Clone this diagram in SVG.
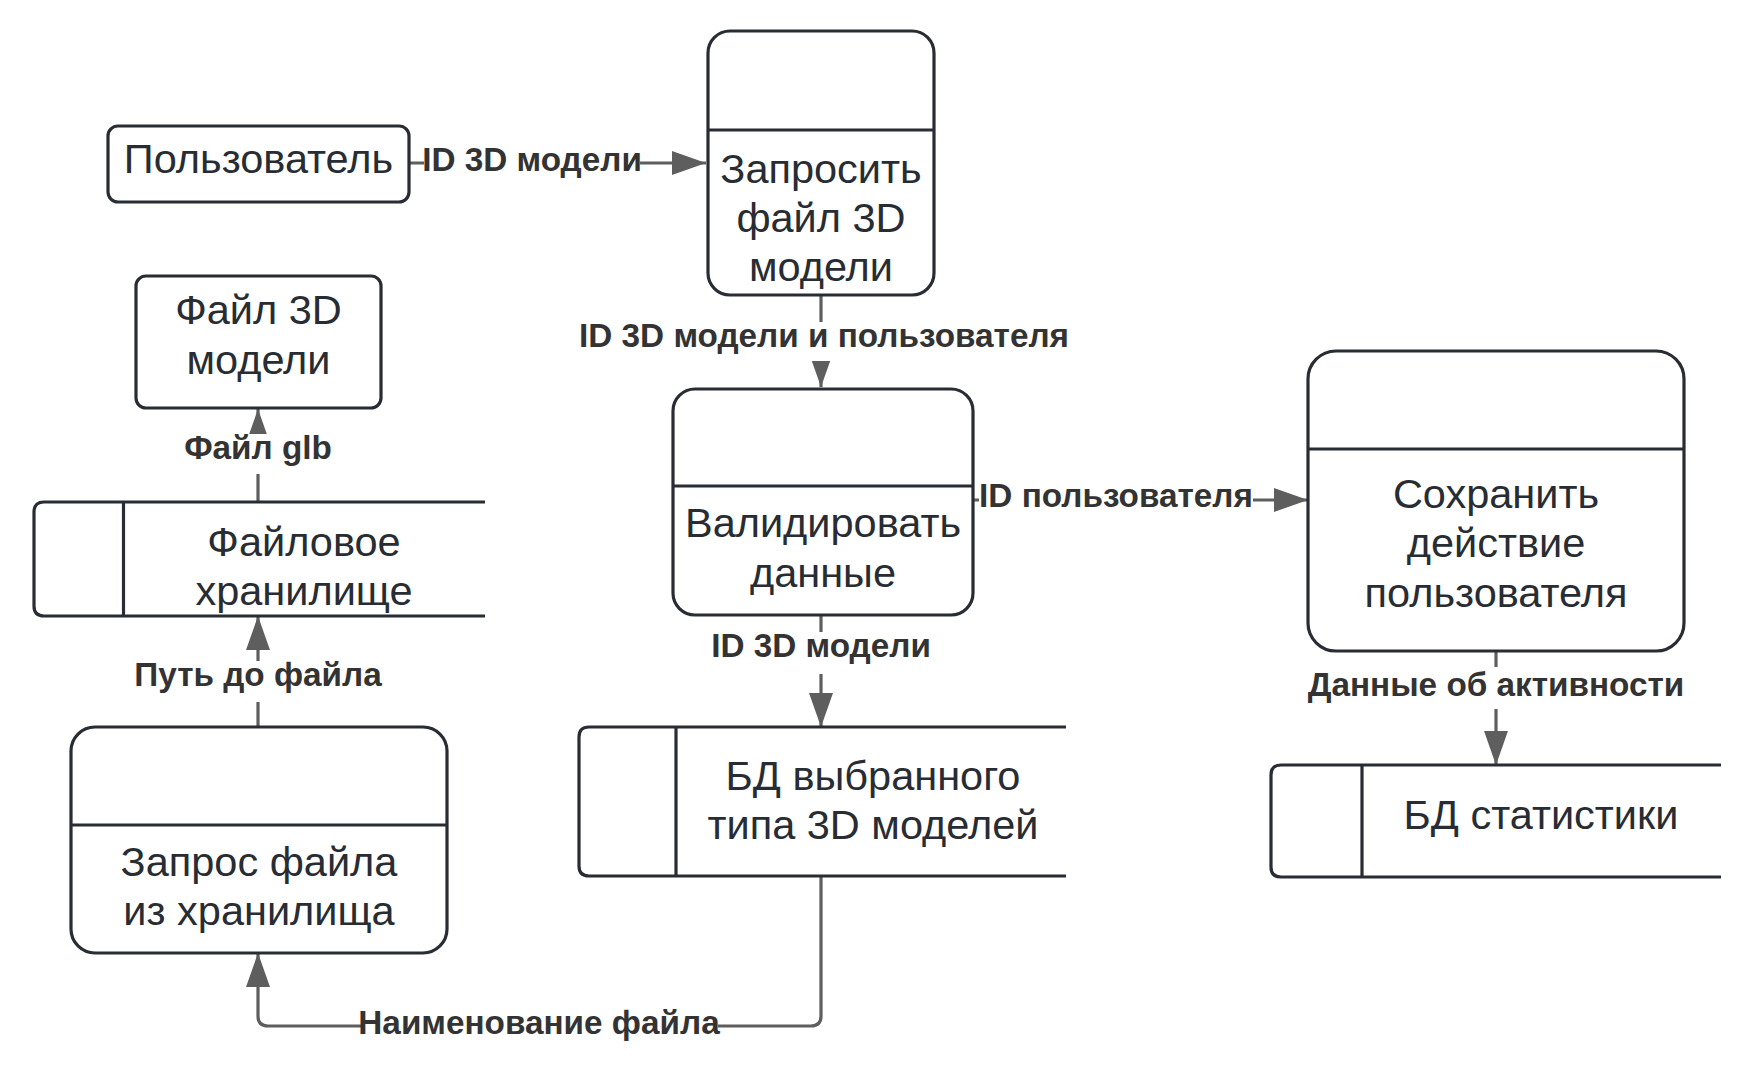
<svg xmlns="http://www.w3.org/2000/svg" width="1755" height="1073" viewBox="0 0 1755 1073">
<defs>
<style>
.n{fill:#fff;stroke:#282c33;stroke-width:3.2}
.d{fill:none;stroke:#282c33;stroke-width:3.2}
.t{font-family:"Liberation Sans",Arial,sans-serif;font-size:41.5px;fill:#282c33;text-anchor:middle}
.c{fill:none;stroke:#5e5e5e;stroke-width:3.2}
.l{font-family:"Liberation Sans",Arial,sans-serif;font-size:33.3px;font-weight:bold;fill:#333;text-anchor:middle}
.bg{fill:#fff}
</style>
<marker id="ah" markerUnits="userSpaceOnUse" markerWidth="36" markerHeight="24" refX="34" refY="12" orient="auto">
<path d="M0,0 L34,12 L0,24 Z" fill="#5e5e5e"/>
</marker>
</defs>
<rect width="1755" height="1073" fill="#fff"/>
<g id="connectors">
<path class="c" d="M409,163 H706" marker-end="url(#ah)"/>
<path class="c" d="M821,295 V387" marker-end="url(#ah)"/>
<path class="c" d="M258,502 V409" marker-end="url(#ah)"/>
<path class="c" d="M258,727 V616" marker-end="url(#ah)"/>
<path class="c" d="M821,615 V727" marker-end="url(#ah)"/>
<path class="c" d="M974,500 H1308" marker-end="url(#ah)"/>
<path class="c" d="M1496,651 V765" marker-end="url(#ah)"/>
<path class="c" d="M821,876 V1016 Q821,1026 811,1026 H268 Q258,1026 258,1016 V953" marker-end="url(#ah)"/>
<rect class="bg" x="424" y="146" width="216" height="34"/>
<rect class="bg" x="578" y="322" width="494" height="39"/>
<rect class="bg" x="200" y="434" width="116" height="40"/>
<rect class="bg" x="135" y="661" width="246" height="41"/>
<rect class="bg" x="718" y="632" width="206" height="42"/>
<rect class="bg" x="979" y="483" width="274" height="34"/>
<rect class="bg" x="1313" y="667" width="366" height="42"/>
<rect class="bg" x="361" y="1009" width="357" height="34"/>
<text class="l" x="532" y="171">ID 3D модели</text>
<text class="l" x="824" y="347">ID 3D модели и пользователя</text>
<text class="l" x="258" y="459">Файл glb</text>
<text class="l" x="258" y="686">Путь до файла</text>
<text class="l" x="821" y="657">ID 3D модели</text>
<text class="l" x="1116" y="507">ID пользователя</text>
<text class="l" x="1496" y="696">Данные об активности</text>
<text class="l" x="539" y="1034">Наименование файла</text>
</g>
<g id="user">
<rect class="n" x="108" y="126" width="301" height="76" rx="10"/>
<text class="t" x="258.5" y="173">Пользователь</text>
</g>
<g id="request-file">
<rect class="n" x="708" y="31" width="226" height="264" rx="22"/>
<line class="d" x1="708" y1="130" x2="934" y2="130"/>
<text class="t" x="821" y="183">Запросить</text>
<text class="t" x="821" y="232">файл 3D</text>
<text class="t" x="821" y="281">модели</text>
</g>
<g id="model-file">
<rect class="n" x="136" y="276" width="245" height="132" rx="10"/>
<text class="t" x="258.5" y="324">Файл 3D</text>
<text class="t" x="258.5" y="374">модели</text>
</g>
<g id="file-storage">
<path class="d" d="M485,502 H44 Q34,502 34,512 V606 Q34,616 44,616 H485"/>
<line class="d" x1="123.5" y1="502" x2="123.5" y2="616"/>
<text class="t" x="304" y="556">Файловое</text>
<text class="t" x="304" y="605">хранилище</text>
</g>
<g id="validate">
<rect class="n" x="673" y="389" width="300" height="226" rx="22"/>
<line class="d" x1="673" y1="486" x2="973" y2="486"/>
<text class="t" x="823" y="537">Валидировать</text>
<text class="t" x="823" y="587">данные</text>
</g>
<g id="save-action">
<rect class="n" x="1308" y="351" width="376" height="300" rx="28"/>
<line class="d" x1="1308" y1="449" x2="1684" y2="449"/>
<text class="t" x="1496" y="508">Сохранить</text>
<text class="t" x="1496" y="557">действие</text>
<text class="t" x="1496" y="607">пользователя</text>
</g>
<g id="storage-request">
<rect class="n" x="71" y="727" width="376" height="226" rx="24"/>
<line class="d" x1="71" y1="825" x2="447" y2="825"/>
<text class="t" x="259" y="876">Запрос файла</text>
<text class="t" x="259" y="925">из хранилища</text>
</g>
<g id="models-db">
<path class="d" d="M1066,727 H589 Q579,727 579,737 V866 Q579,876 589,876 H1066"/>
<line class="d" x1="676" y1="727" x2="676" y2="876"/>
<text class="t" x="873" y="790">БД выбранного</text>
<text class="t" x="873" y="839">типа 3D моделей</text>
</g>
<g id="stats-db">
<path class="d" d="M1721,765 H1281 Q1271,765 1271,775 V867 Q1271,877 1281,877 H1721"/>
<line class="d" x1="1362" y1="765" x2="1362" y2="877"/>
<text class="t" x="1541" y="829">БД статистики</text>
</g>
</svg>
